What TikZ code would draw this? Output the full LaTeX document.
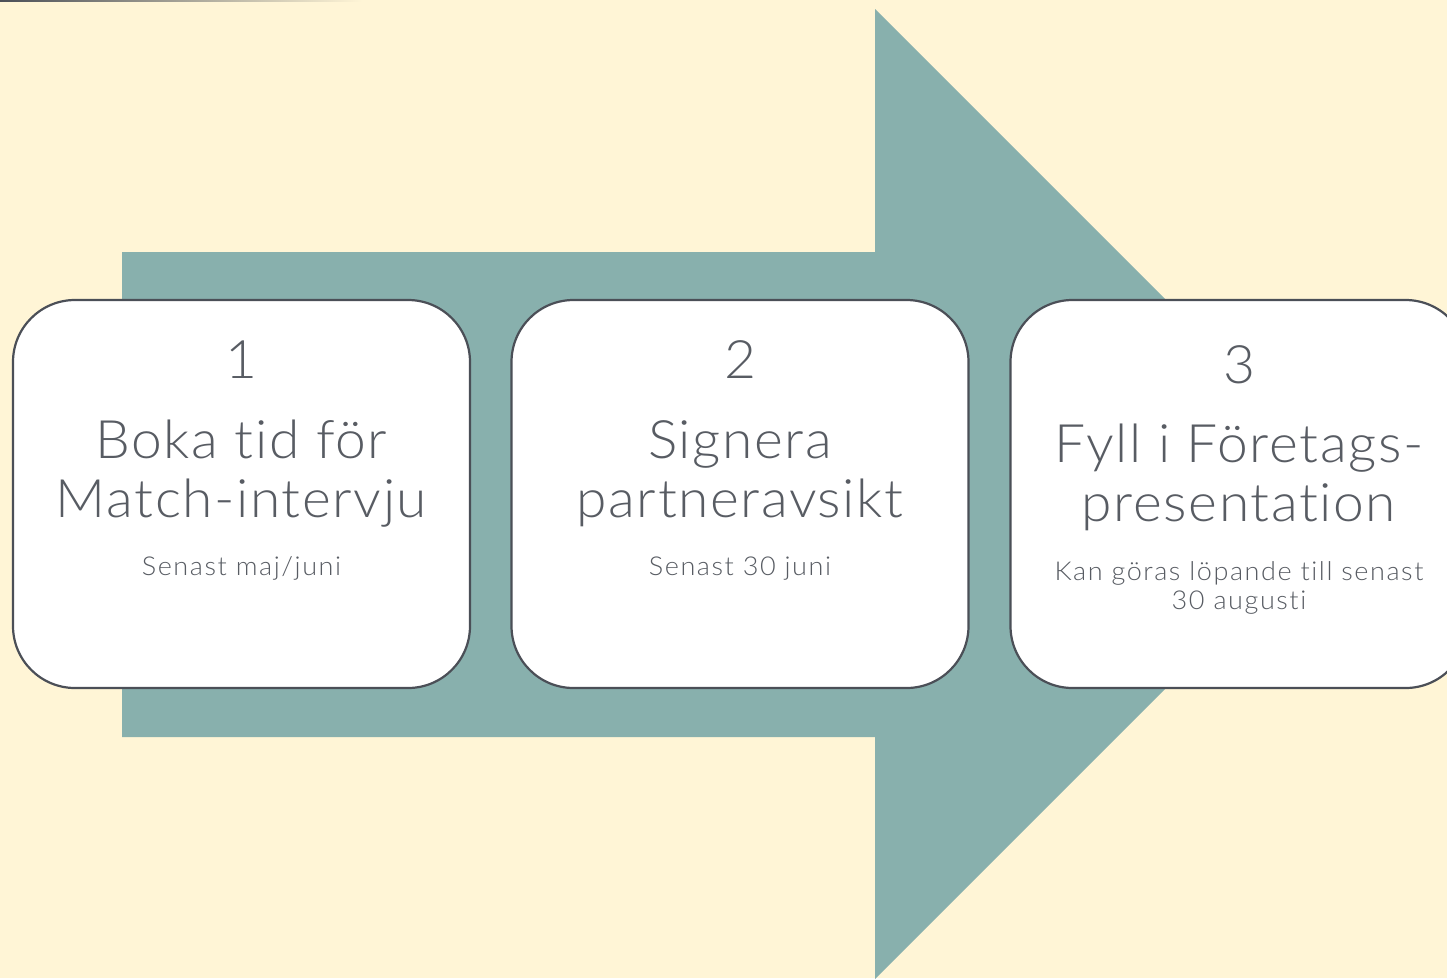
\documentclass[tikz,border=0pt]{standalone}
\usepackage{fontspec}
\newfontfamily\cardfont[Ligatures=NoCommon,FakeStretch=1.04,LetterSpace=3]{Lato Light}
\newfontfamily\notefont[Ligatures=NoCommon,FakeStretch=1.04,LetterSpace=6]{Lato Light}
\usetikzlibrary{positioning}
\definecolor{cream}{HTML}{FFF5D6}
\definecolor{arrowteal}{HTML}{88B0AD}
\definecolor{edgegray}{HTML}{4B4F57}
\definecolor{textgray}{HTML}{585C63}

\begin{document}
\begin{tikzpicture}[x=1pt,y=-1pt,
  stepcard/.style={draw=edgegray,line width=2.2pt,fill=white,rounded corners=62pt,
    minimum width=457pt,minimum height=388pt,inner sep=0pt},
  stepnum/.style={anchor=base,text=textgray,font=\cardfont\fontsize{53}{59}\selectfont},
  steptitle/.style={anchor=base,text=textgray,align=center,font=\cardfont\fontsize{53}{59}\selectfont},
  stepnote/.style={anchor=base,text=textgray,align=center,font=\notefont\fontsize{26}{29}\selectfont}]
\newcommand{\midy}{494}

\useasboundingbox (0,0) rectangle (1447,978);
\clip (0,0) rectangle (1447,978);
\fill[cream] (0,0) rectangle (1447,978);
\shade[left color=edgegray, right color=cream] (0,0) rectangle (362,1.6);

% big arrow behind the cards
\fill[arrowteal] (122,252) -- (875,252) -- (875,9) -- (1360,\midy) -- (875,979)
  -- (875,737) -- (122,737) -- cycle;

% cards
\node[stepcard] (card1) at (241.5,\midy) {};
\node[stepcard] (card2) at (740,\midy) {};
\node[stepcard] (card3) at (1239,\midy) {};

\node[stepnum] (num1) at (241.5,378) {1};
\node[steptitle] (title1) at (241.5,517) {Boka tid för\\Match-intervju};
\node[stepnote] (note1) at (241.5,575) {Senast maj/juni};

\node[stepnum] (num2) at (740,378) {2};
\node[steptitle] (title2) at (740,517) {Signera\\partneravsikt};
\node[stepnote] (note2) at (740,575) {Senast 30 juni};

\node[stepnum] (num3) at (1239,383) {3};
\node[steptitle] (title3) at (1239,521) {Fyll i Företags-\\presentation};
\node[stepnote] (note3) at (1239,609) {Kan göras löpande till senast\\30 augusti};
\end{tikzpicture}
\end{document}
